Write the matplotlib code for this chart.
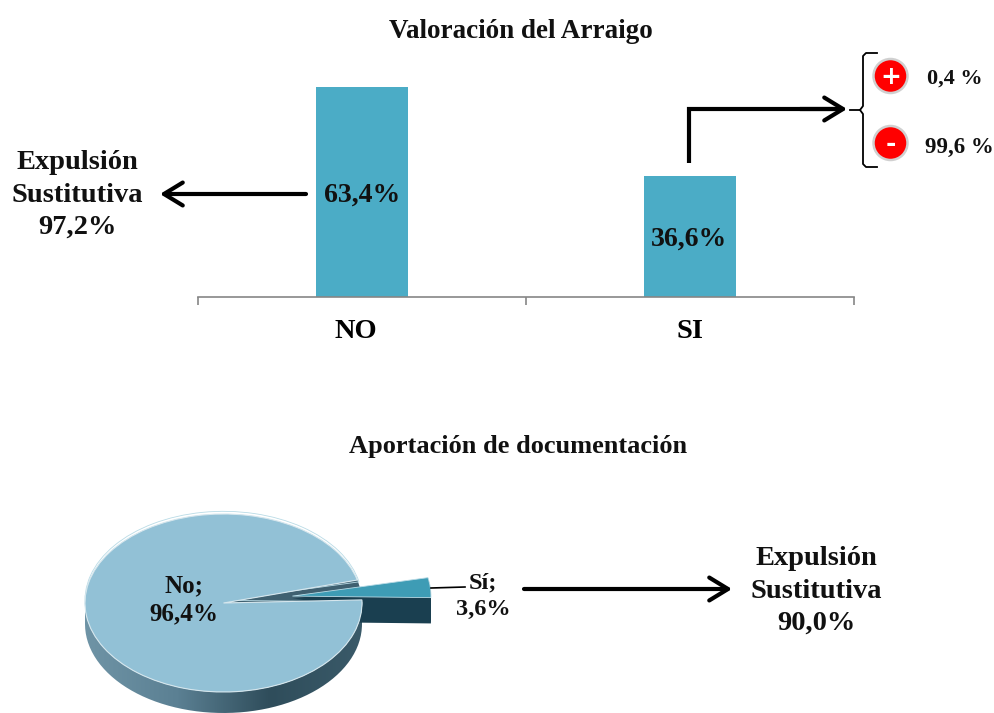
import matplotlib
matplotlib.use('Agg')
import matplotlib.pyplot as plt
import matplotlib.transforms as mtrans
import numpy as np
from matplotlib.patches import Circle, PathPatch
from matplotlib.path import Path

plt.rcParams['font.family'] = ['Liberation Serif', 'DejaVu Serif']
plt.rcParams['font.weight'] = 'bold'

W, H = 995, 713

bar_labels = ['NO', 'SI']
bar_values = [63.4, 36.6]
bar_texts = ['63,4%', '36,6%']
pie_values = [3.6, 96.4]
bar_color = '#4bacc6'


def box(x0, y0, x1, y1):
    return [x0 / W, 1 - y1 / H, (x1 - x0) / W, (y1 - y0) / H]


fig = plt.figure(figsize=(W / 100, H / 100), dpi=100)

# bar chart on top
ax = fig.add_axes(box(198, 87, 854, 297))
ax.bar([0, 1], bar_values, width=0.28, color=bar_color)
ax.set_xlim(-0.5, 1.5)
ax.set_ylim(0, 63.4)
for s in ['top', 'left', 'right']:
    ax.spines[s].set_visible(False)
ax.spines['bottom'].set_color('#868686')
ax.spines['bottom'].set_linewidth(1.2)
ax.set_yticks([])
ax.set_xticks([-0.5, 0.5, 1.5])
ax.set_xticklabels([])
ax.tick_params(axis='x', which='major', length=6, width=1.2, color='#868686')
ax.set_xticks([0, 1], minor=True)
ax.set_xticklabels(bar_labels, minor=True, fontsize=20.5)
ax.tick_params(axis='x', which='minor', length=0, pad=16)
# NO sits a bit left of its bar in the original
no_lab = ax.get_xticklabels(minor=True)[0]
no_lab.set_transform(no_lab.get_transform() + mtrans.ScaledTranslation(-6.5 / 100, 0, fig.dpi_scale_trans))

# pie below, stretched to an ellipse
depth = 0.236
pie_ax = fig.add_axes(box(85, 514, 362, 713))
start = 2.0

# side of the pie with gradient
t = np.linspace(np.pi, 2 * np.pi, 120)
rim_x = np.concatenate([np.cos(t), np.cos(t[::-1])])
rim_y = np.concatenate([np.sin(t) - depth, np.sin(t[::-1])])
rim = PathPatch(Path(np.column_stack([rim_x, rim_y])), fc='none', ec='none', transform=pie_ax.transData)
pie_ax.add_patch(rim)
grad = np.linspace(0, 1, 256).reshape(1, -1)
cmap = matplotlib.colors.LinearSegmentedColormap.from_list('rim', ['#6f94a6', '#5b8093', '#2f4d5b', '#3a5a69'])
img = pie_ax.imshow(grad, extent=(-1, 1, -1 - depth, 0.2), cmap=cmap, aspect='auto')

# inner wall seen through the gap
pie_ax.pie(pie_values, colors=['#3f6070', 'none'], startangle=start, radius=1, wedgeprops={'linewidth': 0})
# outer slice, wall then top
for d in np.linspace(0.29, 0.01, 15):
    pie_ax.pie(pie_values, explode=[0.5, 0], colors=['#1a3f50', 'none'], startangle=start - 3, center=(0, -d + 0.03),
               wedgeprops={'linewidth': 0})
pie_ax.pie(pie_values, explode=[0.5, 0], colors=['#3e9cb5', 'none'], startangle=start - 3, center=(0, 0.03),
           wedgeprops={'linewidth': 0.6, 'edgecolor': '#b9dbe6'})
wedges, _ = pie_ax.pie(pie_values, colors=['none', '#92c1d6'], startangle=start,
                       wedgeprops={'linewidth': 0.8, 'edgecolor': '#d5e6ed'})
wedges[0].set_edgecolor('none')
pie_ax.set_aspect('auto')
pie_ax.set_xlim(-1, 1)
pie_ax.set_ylim(-1 - depth, 1)
pie_ax.axis('off')
for a in pie_ax.get_children():
    if hasattr(a, 'set_clip_on'):
        a.set_clip_on(False)
img.set_clip_on(True)
img.set_clip_path(rim)

# overlay in pixel coordinates for all the texts and arrows
ov = fig.add_axes([0, 0, 1, 1], facecolor='none')
ov.set_xlim(0, W)
ov.set_ylim(H, 0)
ov.axis('off')


def label(x, y, s, size=17, ls=1.15):
    ov.text(x, y, s, ha='center', va='center', fontsize=size, linespacing=ls, color='#111111')


def arrow(x0, y0, x1, y1):
    ov.annotate('', xy=(x1, y1), xytext=(x0, y0),
                arrowprops=dict(arrowstyle='->,head_length=0.9,head_width=0.55', lw=3, color='black',
                                shrinkA=0, shrinkB=0, mutation_scale=15))


label(521, 31, 'Valoración del Arraigo', 19.5)
label(518, 446, 'Aportación de documentación', 19)

label(362, 195, bar_texts[0], 20)
label(689, 239, bar_texts[1], 20)
label(77, 195, 'Expulsión\nSustitutiva\n97,2%', 20.5, 1.38)
label(816, 591, 'Expulsión\nSustitutiva\n90,0%', 20.5, 1.38)
label(184, 600, 'No;\n96,4%', 18, 1.25)
label(483, 596, 'Sí;\n3,6%', 17.5, 1.35)
label(955, 79, '0,4 %', 16)
label(959, 147, '99,6 %', 16.5)

arrow(306, 194, 160, 194)
arrow(524, 589, 732, 589)
ov.plot([689, 689, 835], [163, 109, 109], color='black', lw=3, solid_capstyle='butt', solid_joinstyle='miter')
arrow(800, 109, 847, 109)

# brace
ov.plot([877, 866, 863, 863, 860, 850], [53, 53, 56, 106, 110, 110], color='black', lw=1.3)
ov.plot([877, 866, 863, 863, 860], [167, 167, 164, 114, 110], color='black', lw=1.3)

# red + and - buttons
for cy, sign in [(76, '+'), (143, '-')]:
    ov.add_patch(Circle((890.5, cy), 17, fc='red', ec='#d0d0d0', lw=1.8))
    ov.text(890.5, cy + 1, sign, color='white', ha='center', va='center', fontsize=18,
            family=['DejaVu Sans'], fontweight='bold')

# leader line of the small slice
ov.plot([431, 465], [588, 587], color='black', lw=1.2)

fig.savefig('out.png', dpi=100)
